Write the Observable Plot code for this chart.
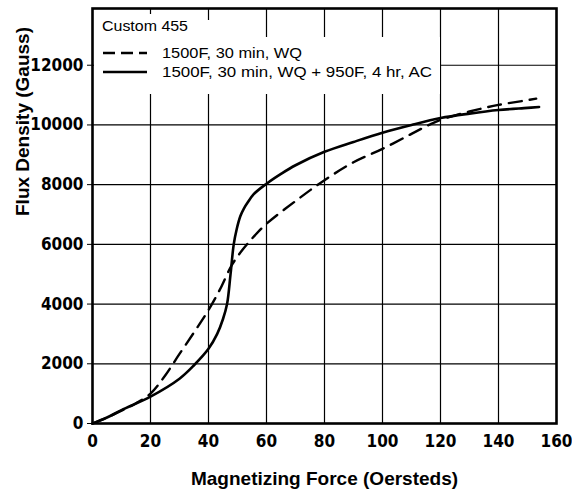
<!DOCTYPE html>
<html>
<head>
<meta charset="utf-8">
<script src="https://cdn.jsdelivr.net/npm/d3@7"></script>
<script src="https://cdn.jsdelivr.net/npm/@observablehq/plot@0.6"></script>
<style>
  html, body { margin: 0; padding: 0; background: #fff; }
  #chart { width: 572px; height: 500px; }
</style>
</head>
<body>
<div id="chart"></div>
<script>
// Tick values
const xTicks = [0, 20, 40, 60, 80, 100, 120, 140, 160];
const yTicks = [0, 2000, 4000, 6000, 8000, 10000, 12000];

// Series: 1500F, 30 min, WQ (dashed)
const wqH = [0, 5, 10, 15, 20, 25, 30, 35, 40, 44, 48, 52, 56, 60, 70, 80, 90, 100, 110, 116, 120, 130, 140, 150, 153];
const wqB = [0, 200, 430, 680, 1000, 1600, 2330, 3050, 3800, 4500, 5300, 5850, 6300, 6690, 7450, 8150, 8750, 9200, 9700, 10000, 10170, 10450, 10670, 10830, 10880];

// Series: 1500F, 30 min, WQ + 950F, 4 hr, AC (solid)
const agedH = [0, 5, 10, 20, 30, 35, 40, 43, 45, 46.4, 47.6, 48.7, 49.7, 51, 52.2, 53.5, 55.6, 60, 65, 70, 80, 90, 100, 110, 120, 130, 140, 150, 154];
const agedB = [0, 200, 450, 900, 1500, 1950, 2500, 3000, 3500, 4000, 5000, 6000, 6500, 6950, 7200, 7400, 7680, 8030, 8360, 8650, 9100, 9430, 9740, 10000, 10230, 10380, 10500, 10570, 10600];

const legendTitle = "Custom 455";
const seriesNames = ["1500F, 30 min, WQ", "1500F, 30 min, WQ + 950F, 4 hr, AC"];

const wq = wqH.map((h, i) => ({h, b: wqB[i]}));
const aged = agedH.map((h, i) => ({h, b: agedB[i]}));

const font = "'Liberation Sans Narrow', 'DejaVu Sans Condensed', sans-serif";
const tf = "'Liberation Sans', Arial, sans-serif";

const plot = Plot.plot({
  width: 572,
  height: 500,
  marginLeft: 92,
  marginRight: 16,
  marginTop: 8,
  marginBottom: 77,
  style: {fontFamily: font, background: "#fff", color: "#000"},
  x: {domain: [0, 160]},
  y: {domain: [0, 13900]},
  marks: [
    Plot.ruleX(xTicks.slice(1, -1), {stroke: "#000", strokeWidth: 1.2}),
    Plot.ruleY(yTicks.slice(1), {stroke: "#000", strokeWidth: 1.2}),
    Plot.axisX(xTicks, {tickSize: 0, tickPadding: 11, tickFormat: d => String(d), fontSize: 17, fontWeight: "bold", label: null}),
    Plot.axisY(yTicks, {tickSize: 5, tickPadding: 4, tickFormat: d => String(d), fontSize: 17, fontWeight: "bold", label: null}),
    Plot.line(wq, {x: "h", y: "b", stroke: "#000", strokeWidth: 2.4, strokeDasharray: "13,8", curve: "catmull-rom"}),
    Plot.line(aged, {x: "h", y: "b", stroke: "#000", strokeWidth: 2.6, curve: "catmull-rom"}),
    Plot.frame({stroke: "#000", strokeWidth: 2.6}),
    Plot.text(["Magnetizing Force (Oersteds)"], {frameAnchor: "bottom", dy: 61, text: d => d, fontSize: 19, fontWeight: "bold", fontFamily: tf}),
    Plot.text(["Flux Density (Gauss)"], {frameAnchor: "left", dx: -70, rotate: -90, text: d => d, fontSize: 19, fontWeight: "bold", fontFamily: tf})
  ]
});

document.getElementById("chart").appendChild(plot);

// Legend drawn inside the frame
const svg = d3.select(plot);
const fx = plot.scale("x"), fy = plot.scale("y");
const px0 = fx.apply(0), py0 = fy.apply(13900);
const g = svg.append("g").attr("class", "legend").attr("text-anchor", "start");
g.append("rect").attr("x", px0 + 2).attr("y", py0 + 6).attr("width", 106).attr("height", 80).attr("fill", "#fff");
g.append("rect").attr("x", px0 + 108).attr("y", py0 + 12).attr("width", 40).attr("height", 74).attr("fill", "#fff");
g.append("rect").attr("x", px0 + 148).attr("y", py0 + 29).attr("width", 200).attr("height", 57).attr("fill", "#fff");
g.append("text").attr("x", px0 + 10).attr("y", py0 + 23).attr("font-family", tf).attr("font-size", 15.5)
  .attr("font-weight", 500).attr("textLength", 86).attr("lengthAdjust", "spacingAndGlyphs").text(legendTitle);
const rows = [{dash: "12,6", y: py0 + 45}, {dash: null, y: py0 + 64}];
rows.forEach((r, i) => {
  const ln = g.append("line").attr("x1", px0 + 11).attr("x2", px0 + 55).attr("y1", r.y).attr("y2", r.y)
    .attr("stroke", "#000").attr("stroke-width", 2.4);
  if (r.dash) ln.attr("stroke-dasharray", r.dash);
  g.append("text").attr("x", px0 + 70).attr("y", r.y + 5).attr("font-family", tf).attr("font-size", 15.5)
    .attr("textLength", i === 0 ? 140 : 270).attr("lengthAdjust", "spacingAndGlyphs").text(seriesNames[i]);
});
</script>
</body>
</html>
